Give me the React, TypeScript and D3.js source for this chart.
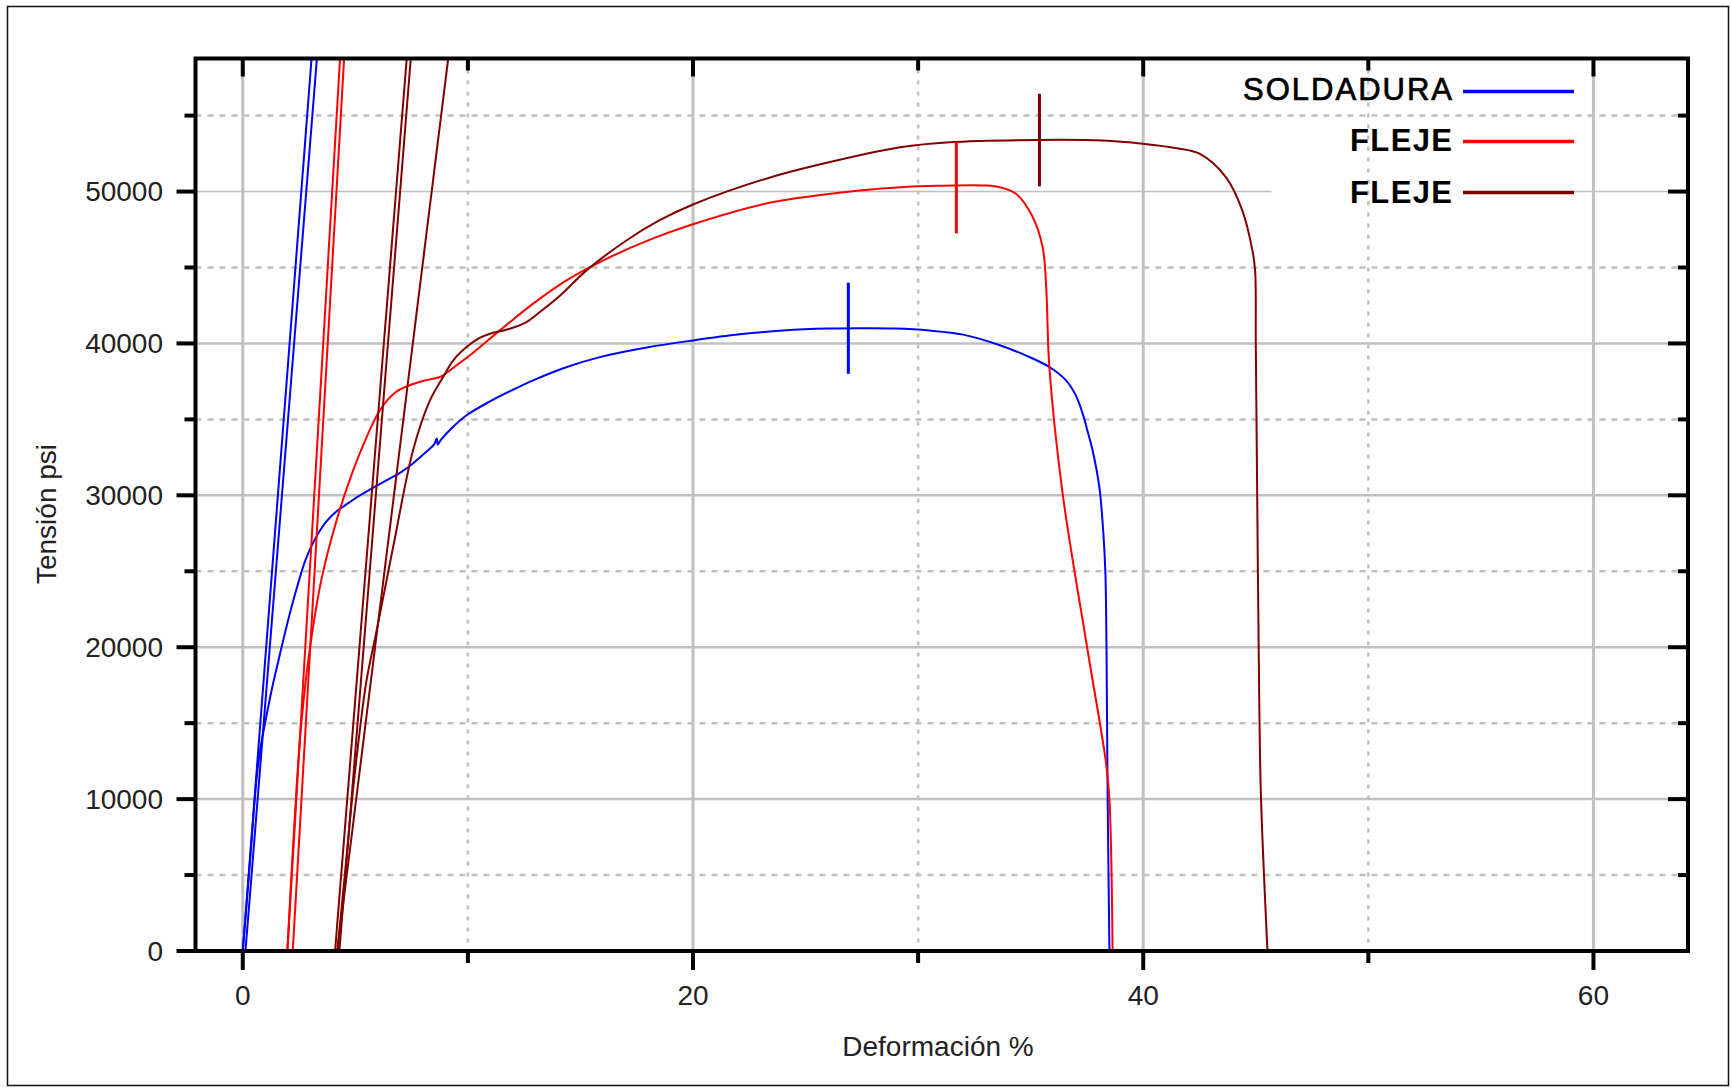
import React from 'react';
import * as d3 from 'd3';

const W = 1732;
const H = 1088;

// ---------- data ----------
const xMajorTicks = [0, 20, 40, 60];
const xMinorTicks = [10, 30, 50];
const yMajorTicks = [0, 10000, 20000, 30000, 40000, 50000];
const yMinorTicks = [5000, 15000, 25000, 35000, 45000, 55000];

const seriesNames = ['SOLDADURA', 'FLEJE', 'FLEJE'];
const seriesColors = ['#0000ff', '#ff0000', '#800000'];

const soldaduraCurve: [number, number][] = [
  [0, 0], [0.3, 5500], [0.62, 11460], [0.78, 13300], [0.99, 15000], [1.3, 17300],
  [1.66, 19600], [2.0, 21700], [2.4, 23900], [2.8, 25800], [3.2, 27100], [3.7, 28250],
  [4.17, 28950], [4.7, 29500], [5.2, 30000], [5.8, 30500], [6.4, 31000], [7.0, 31500],
  [7.56, 32100], [8.1, 32800], [8.5, 33350], [8.62, 33750], [8.66, 33350], [8.8, 33650],
  [9.3, 34450], [9.94, 35270], [11.0, 36200], [12.0, 36950], [12.9, 37570], [14.3, 38400],
  [15.86, 39100], [18.0, 39750], [20.0, 40200], [22.07, 40600], [24.0, 40850], [26.0, 40980],
  [27.5, 41000], [29.0, 40980], [30.5, 40850], [32.0, 40580], [33.6, 39900], [34.8, 39200],
  [35.83, 38450], [36.57, 37570], [37.0, 36600], [37.31, 35380], [37.55, 34100], [37.75, 32970],
  [38.05, 30550], [38.23, 27480], [38.32, 24850], [38.37, 19800], [38.42, 10000], [38.5, 0],
];
const soldaduraElastic: [number, number][][] = [
  [[0.0, 0], [3.12, 60000]],
  [[0.12, 0], [3.36, 60000]],
];
const soldaduraMarker = { x: 26.9, lo: 38000, hi: 44000 };

const flejeCurve: [number, number][] = [
  [1.98, 0], [2.2, 6000], [2.4, 11000], [2.62, 15300], [2.99, 20000], [3.5, 24500],
  [4.1, 28000], [4.7, 30800], [5.35, 33300], [6.09, 35600], [6.8, 36800], [7.6, 37350],
  [8.2, 37600], [8.76, 37790], [9.4, 38450], [10.09, 39220], [11.42, 40860], [12.9, 42620],
  [14.38, 44150], [15.86, 45360], [18.2, 46900], [20.0, 47850], [23.5, 49290], [27.5, 50090],
  [29.2, 50290], [30.9, 50380], [33.0, 50400], [33.6, 50290], [34.35, 49850], [35.09, 48320],
  [35.53, 46340], [35.69, 43710], [35.83, 38450], [36.42, 30120], [37.53, 19800], [38.35, 12350],
  [38.5, 9940], [38.64, 0],
];
const flejeElastic: [number, number][][] = [
  [[1.98, 0], [4.37, 60000]],
  [[2.22, 0], [4.55, 60000]],
];
const flejeMarker = { x: 31.7, lo: 47250, hi: 53250 };

const fleje2Curve: [number, number][] = [
  [4.2, 0], [4.5, 4500], [4.8, 9200], [5.2, 14540], [5.5, 17830], [5.95, 21120],
  [6.68, 26600], [7.57, 33000], [8.3, 36200], [8.9, 37790], [9.35, 38890], [9.94, 39760],
  [10.5, 40350], [10.98, 40640], [11.86, 40970], [12.6, 41410], [13.2, 42070], [14.1, 43160],
  [15.27, 44810], [17.04, 46780], [18.5, 48100], [20.0, 49150], [23.5, 50960], [27.5, 52420],
  [29.2, 52920], [31.4, 53250], [35.4, 53400], [38.2, 53360], [39.97, 53150], [41.5, 52850],
  [42.5, 52490], [43.67, 50950], [44.4, 48760], [44.85, 46130], [44.97, 44810], [45.0, 40000],
  [45.05, 32100], [45.15, 17000], [45.23, 10150], [45.52, 0],
];
const fleje2Elastic: [number, number][][] = [
  [[4.1, 0], [7.35, 60000]],
  [[4.29, 0], [7.53, 60000]],
  [[4.2, 0], [9.23, 60000]],
];
const fleje2Marker = { x: 35.39, lo: 50340, hi: 56440 };

const xDomain: [number, number] = [-2.1, 64.2];
const yDomain: [number, number] = [0, 58760];

// ---------- layout ----------
const plot = { left: 195.5, right: 1688, top: 58.5, bottom: 951 };
const GRID = '#c0c0c0';
const FONT = '"Liberation Sans", Arial, Helvetica, sans-serif';

export default function App() {
  const x = d3.scaleLinear().domain(xDomain).range([plot.left, plot.right]);
  const y = d3.scaleLinear().domain(yDomain).range([plot.bottom, plot.top]);
  const line = d3
    .line<[number, number]>()
    .x((d) => x(d[0]))
    .y((d) => y(d[1]))
    .curve(d3.curveCatmullRom.alpha(0.5));
  const straight = d3
    .line<[number, number]>()
    .x((d) => x(d[0]))
    .y((d) => y(d[1]));

  const series = [
    { curve: soldaduraCurve, elastic: soldaduraElastic, marker: soldaduraMarker },
    { curve: flejeCurve, elastic: flejeElastic, marker: flejeMarker },
    { curve: fleje2Curve, elastic: fleje2Elastic, marker: fleje2Marker },
  ];

  const legendX0 = 1463;
  const legendX1 = 1574;
  const legendTextX = 1452;
  const legendLineY = [91.5, 141.5, 192.5];
  const legendTextY = [100, 151, 203];

  return (
    <svg
      width={W}
      height={H}
      viewBox={`0 0 ${W} ${H}`}
      style={{ position: 'absolute', left: 0, top: 0, background: '#fff' }}
    >
      <defs>
        <clipPath id="plotClip">
          <rect x={plot.left} y={plot.top} width={plot.right - plot.left} height={plot.bottom - plot.top} />
        </clipPath>
      </defs>
      <rect x={0} y={0} width={W} height={H} fill="#fefefe" />
      <rect x={7.5} y={6.5} width={1721} height={1079} fill="none" stroke="#111" strokeWidth={1.5} />

      {/* minor grid */}
      {yMinorTicks.map((t) => (
        <line key={'ymg' + t} x1={plot.left} x2={plot.right} y1={y(t)} y2={y(t)}
          stroke={GRID} strokeWidth={2.5} strokeDasharray="6,6" />
      ))}
      {xMinorTicks.map((t) => (
        <line key={'xmg' + t} x1={x(t)} x2={x(t)} y1={plot.top} y2={plot.bottom}
          stroke={GRID} strokeWidth={2.5} strokeDasharray="4,7" />
      ))}
      {/* major grid */}
      {yMajorTicks.filter((t) => t > 0 && t < 50000).map((t) => (
        <line key={'yg' + t} x1={plot.left} x2={plot.right} y1={y(t)} y2={y(t)}
          stroke={GRID} strokeWidth={2.5} />
      ))}
      <line x1={plot.left} x2={x(45.7)} y1={y(50000)} y2={y(50000)} stroke={GRID} strokeWidth={1.5} />
      <line x1={legendX1} x2={plot.right} y1={y(50000)} y2={y(50000)} stroke={GRID} strokeWidth={1.5} />
      {xMajorTicks.map((t) => (
        <line key={'xg' + t} x1={x(t)} x2={x(t)} y1={plot.top} y2={plot.bottom}
          stroke={GRID} strokeWidth={3} />
      ))}

      {/* curves */}
      <g clipPath="url(#plotClip)" fill="none">
        {series.map((s, i) => (
          <g key={'s' + i} stroke={seriesColors[i]}>
            {s.elastic.map((e, j) => (
              <path key={'e' + j} d={straight(e) || ''} strokeWidth={2} />
            ))}
            <path d={line(s.curve) || ''} strokeWidth={2} />
          </g>
        ))}
      </g>
      {series.map((s, i) => (
        <line key={'m' + i} x1={x(s.marker.x)} x2={x(s.marker.x)} y1={y(s.marker.lo)} y2={y(s.marker.hi)}
          stroke={seriesColors[i]} strokeWidth={3} />
      ))}

      {/* frame */}
      <rect x={plot.left} y={plot.top} width={plot.right - plot.left} height={plot.bottom - plot.top}
        fill="none" stroke="#000" strokeWidth={4} />

      {/* ticks */}
      <g stroke="#000" strokeWidth={4}>
        {yMajorTicks.map((t) => (
          <g key={'yt' + t}>
            <line x1={plot.left - 19} x2={plot.left} y1={y(t)} y2={y(t)} />
            <line x1={plot.right - 20} x2={plot.right} y1={y(t)} y2={y(t)} />
          </g>
        ))}
        {yMinorTicks.map((t) => (
          <g key={'ymt' + t}>
            <line x1={plot.left - 11} x2={plot.left} y1={y(t)} y2={y(t)} />
            <line x1={plot.right - 10} x2={plot.right} y1={y(t)} y2={y(t)} />
          </g>
        ))}
        {xMajorTicks.map((t) => (
          <g key={'xt' + t}>
            <line x1={x(t)} x2={x(t)} y1={plot.bottom} y2={plot.bottom + 19} />
            <line x1={x(t)} x2={x(t)} y1={plot.top} y2={plot.top + 18} />
          </g>
        ))}
        {xMinorTicks.map((t) => (
          <g key={'xmt' + t}>
            <line x1={x(t)} x2={x(t)} y1={plot.bottom} y2={plot.bottom + 12} />
            <line x1={x(t)} x2={x(t)} y1={plot.top} y2={plot.top + 12} />
          </g>
        ))}
      </g>

      {/* tick labels */}
      <g fontFamily={FONT} fontSize={28} fill="#222">
        {yMajorTicks.map((t) => (
          <text key={'yl' + t} x={163} y={y(t)} textAnchor="end" dominantBaseline="central">{t}</text>
        ))}
        {xMajorTicks.map((t) => (
          <text key={'xl' + t} x={x(t)} y={1005} textAnchor="middle">{t}</text>
        ))}
        <text x={938} y={1056} textAnchor="middle">Deformación %</text>
        <text transform={`translate(56, ${514}) rotate(-90)`} textAnchor="middle">Tensión psi</text>
      </g>

      {/* legend */}
      <g fontFamily={FONT} fontSize={31} fill="#000">
        {seriesNames.map((n, i) => (
          <g key={'lg' + i}>
            <text x={legendTextX} y={legendTextY[i]} textAnchor="end"
              fontWeight={i === 0 ? 'normal' : 'bold'}
              stroke={i === 0 ? '#000' : 'none'} strokeWidth={i === 0 ? 0.7 : 0}
              textLength={i === 0 ? 209 : 102} lengthAdjust="spacing">{n}</text>
            <line x1={legendX0} x2={legendX1} y1={legendLineY[i]} y2={legendLineY[i]}
              stroke={seriesColors[i]} strokeWidth={3.5} />
          </g>
        ))}
      </g>
    </svg>
  );
}
